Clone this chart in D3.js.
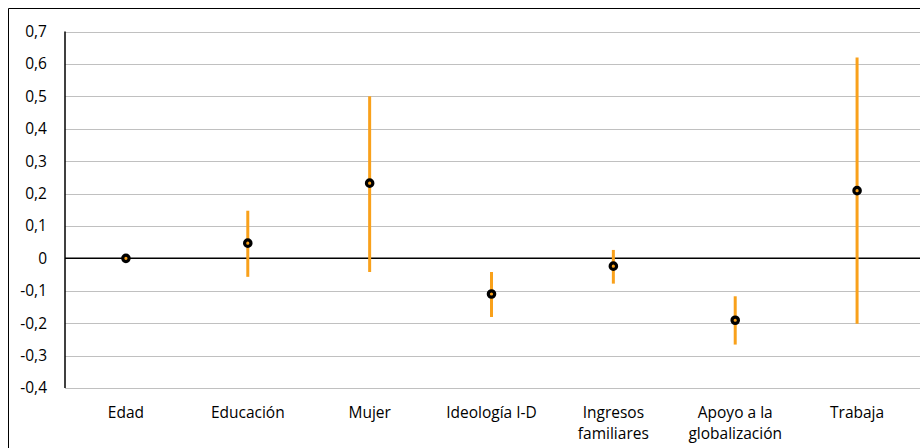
<!DOCTYPE html>
<html><head><meta charset="utf-8">
<script src="https://cdn.jsdelivr.net/npm/d3@7"></script>
<style>body{margin:0;background:#fff;} svg{display:block;}</style>
</head><body>
<svg id="c" width="920" height="448"></svg>
<script>
const categories = [["Edad"],["Educación"],["Mujer"],["Ideología I-D"],["Ingresos","familiares"],["Apoyo a la","globalización"],["Trabaja"]];
const estimates = [0, 0.047, 0.232, -0.110, -0.024, -0.191, 0.209];
const lower = [0, -0.057, -0.042, -0.181, -0.078, -0.266, -0.202];
const upper = [0, 0.147, 0.500, -0.042, 0.026, -0.117, 0.620];
const yTicks = [-0.4,-0.3,-0.2,-0.1,0,0.1,0.2,0.3,0.4,0.5,0.6,0.7];

const svg = d3.select("#c");
const font = "'Open Sans', 'Noto Sans', sans-serif";
const L = 65, R = 918, T = 31.5, B = 388;
const x = d3.scaleBand().domain(categories.map((d,i)=>i)).range([L,R]);
const y = d3.scaleLinear().domain([-0.4,0.7]).range([B,T]);

// frame
svg.append("path").attr("d","M8.5,448V8.5H920").attr("fill","none").attr("stroke","#000").attr("stroke-width",1);

// gridlines
svg.append("g").selectAll("line").data(yTicks.filter(t=>t!==0)).join("line")
  .attr("x1",L).attr("x2",920).attr("y1",d=>Math.round(y(d))+0.5).attr("y2",d=>Math.round(y(d))+0.5)
  .attr("stroke","#c0c0c0").attr("stroke-width",1);

// y labels
const fmt = d => d===0 ? "0" : d3.format(".1f")(d).replace(".",",").replace("−","-");
svg.append("g").selectAll("text").data(yTicks).join("text")
  .attr("x",47).attr("y",d=>y(d)).attr("dy","0.35em").attr("text-anchor","end")
  .attr("font-family",font).attr("font-size",15.5).attr("fill","#000").text(fmt);

// left axis
svg.append("line").attr("x1",L).attr("x2",L).attr("y1",T).attr("y2",B).attr("stroke","#000").attr("stroke-width",1.5);
// zero line
svg.append("line").attr("x1",L).attr("x2",920).attr("y1",y(0)).attr("y2",y(0)).attr("stroke","#000").attr("stroke-width",1.5);

// error bars
svg.append("g").selectAll("line").data(estimates).join("line")
  .attr("x1",(d,i)=>x(i)+x.bandwidth()/2).attr("x2",(d,i)=>x(i)+x.bandwidth()/2)
  .attr("y1",(d,i)=>y(upper[i])).attr("y2",(d,i)=>y(lower[i]))
  .attr("stroke","#F9A11B").attr("stroke-width",3);

// markers
svg.append("g").selectAll("circle").data(estimates).join("circle")
  .attr("cx",(d,i)=>x(i)+x.bandwidth()/2).attr("cy",d=>y(d)).attr("r",3.2)
  .attr("fill","#F9A11B").attr("stroke","#000").attr("stroke-width",3.2);

// x labels
const xl = svg.append("g").selectAll("text").data(categories).join("text")
  .attr("x",(d,i)=>x(i)+x.bandwidth()/2).attr("y",418).attr("text-anchor","middle")
  .attr("font-family",font).attr("font-size",15.5).attr("fill","#000");
xl.selectAll("tspan").data(d=>d).join("tspan")
  .attr("x",function(){return this.parentNode.getAttribute("x");})
  .attr("dy",(d,i)=>i===0?0:21).text(d=>d);
</script>
</body></html>
